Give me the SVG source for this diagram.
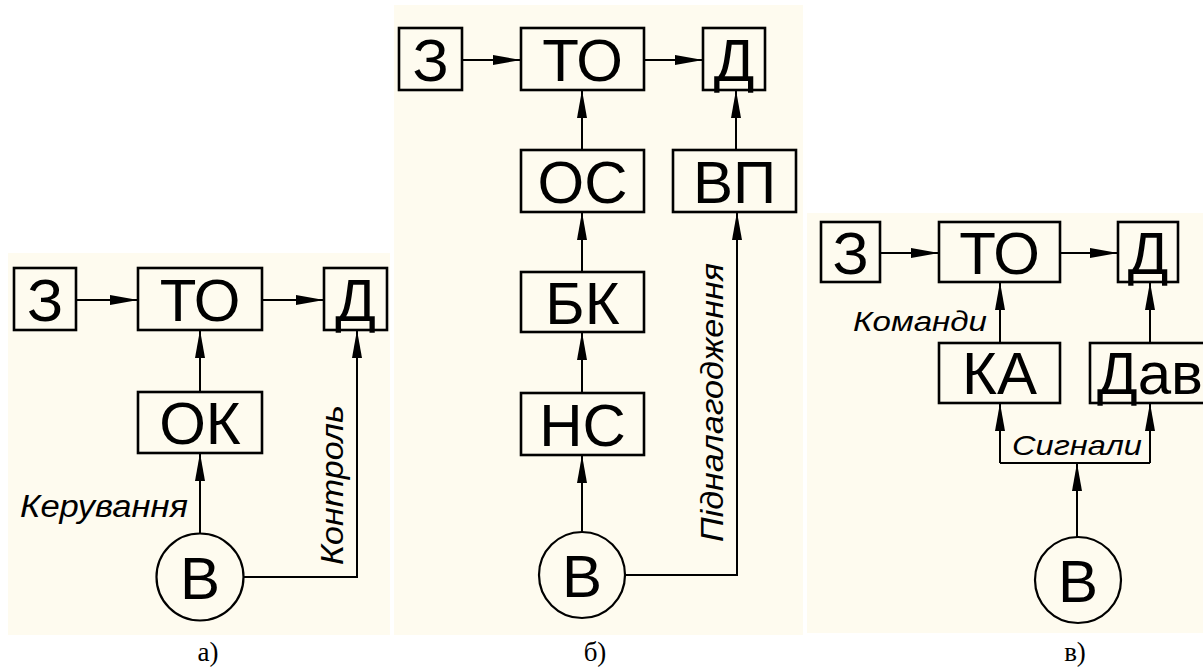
<svg xmlns="http://www.w3.org/2000/svg" width="1203" height="667" viewBox="0 0 1203 667">
<style>
.bg{fill:#FEFBEF;stroke:none}
.box{fill:none;stroke:#000;stroke-width:2.6}
.circ{fill:none;stroke:#000;stroke-width:2.2}
.big{font-family:"Liberation Sans",Arial,sans-serif;font-size:60px;fill:#000;text-anchor:middle}
.lbl{font-family:"Liberation Sans",Arial,sans-serif;font-style:italic;fill:#000}
.cap{font-family:"Liberation Serif","Times New Roman",serif;font-size:27px;fill:#000;text-anchor:middle}
.ln{fill:none;stroke:#000;stroke-width:2}
.arr{marker-end:url(#ah)}
</style>
<defs>
<marker id="ah" markerUnits="userSpaceOnUse" markerWidth="30" markerHeight="12" refX="28" refY="5" orient="auto" overflow="visible">
<path d="M0,0 L28,5 L0,10 z" fill="#000"/>
</marker>
</defs>
<rect width="1203" height="667" fill="#fff"/>
<rect class="bg" x="8" y="253" width="382" height="382"/>
<rect class="bg" x="394" y="5" width="409" height="630"/>
<rect class="bg" x="807" y="213" width="396" height="420"/>

<!-- Panel a -->
<g id="a-Z"><rect class="box" x="14" y="268" width="62" height="62"/><text class="big" x="45" y="321">З</text></g>
<g id="a-TO"><rect class="box" x="138" y="268" width="124" height="62"/><text class="big" x="200" y="321">ТО</text></g>
<g id="a-D"><rect class="box" x="324" y="268" width="63" height="62"/><text class="big" x="355.5" y="321">Д</text></g>
<g id="a-OK"><rect class="box" x="138" y="392" width="124" height="61"/><text class="big" x="200" y="444">ОК</text></g>
<g id="a-V"><circle class="circ" cx="200" cy="577" r="43.5"/><text class="big" x="200" y="599">В</text></g>

<!-- Panel b -->
<g id="b-Z"><rect class="box" x="399" y="28" width="63" height="62"/><text class="big" x="430.5" y="81">З</text></g>
<g id="b-TO"><rect class="box" x="521" y="28" width="123" height="62"/><text class="big" x="582.5" y="81">ТО</text></g>
<g id="b-D"><rect class="box" x="703" y="28" width="62" height="62"/><text class="big" x="734" y="81">Д</text></g>
<g id="b-OS"><rect class="box" x="521" y="150" width="123" height="62"/><text class="big" x="582.5" y="203">ОС</text></g>
<g id="b-VP"><rect class="box" x="673" y="150" width="123" height="62"/><text class="big" x="734.5" y="203">ВП</text></g>
<g id="b-BK"><rect class="box" x="521" y="272" width="123" height="60"/><text class="big" x="582.5" y="324">БК</text></g>
<g id="b-NS"><rect class="box" x="521" y="393" width="123" height="62"/><text class="big" x="582.5" y="446">НС</text></g>
<g id="b-V"><circle class="circ" cx="582" cy="575" r="43"/><text class="big" x="582" y="597">В</text></g>

<!-- Panel c -->
<g id="c-Z"><rect class="box" x="821" y="222" width="59" height="60"/><text class="big" x="850.5" y="274">З</text></g>
<g id="c-TO"><rect class="box" x="939" y="222" width="121" height="60"/><text class="big" x="999.5" y="274">ТО</text></g>
<g id="c-D"><rect class="box" x="1118" y="222" width="60" height="60"/><text class="big" x="1148" y="274">Д</text></g>
<g id="c-KA"><rect class="box" x="939" y="343" width="121" height="60"/><text class="big" x="999.5" y="394">КА</text></g>
<g id="c-Dav"><rect class="box" x="1090" y="343" width="120" height="60"/><text class="big" x="1097" y="394" style="text-anchor:start">Дав</text></g>
<g id="c-V"><circle class="circ" cx="1078" cy="580" r="43"/><text class="big" x="1078" y="602">В</text></g>

<!-- Connectors -->
<g id="connectors">
<line class="ln arr" x1="76" y1="300" x2="138" y2="300"/>
<line class="ln arr" x1="262" y1="300" x2="324" y2="300"/>
<line class="ln arr" x1="200" y1="392" x2="200" y2="330"/>
<line class="ln arr" x1="200" y1="533.5" x2="200" y2="453"/>
<polyline class="ln arr" points="243.5,577 357,577 357,330"/>

<line class="ln arr" x1="462" y1="60" x2="521" y2="60"/>
<line class="ln arr" x1="644" y1="60" x2="703" y2="60"/>
<line class="ln arr" x1="582" y1="150" x2="582" y2="90"/>
<line class="ln arr" x1="736" y1="150" x2="736" y2="90"/>
<line class="ln arr" x1="582" y1="272" x2="582" y2="212"/>
<line class="ln arr" x1="582" y1="393" x2="582" y2="332"/>
<line class="ln arr" x1="582" y1="532" x2="582" y2="455"/>
<polyline class="ln arr" points="625,575 737,575 737,212"/>

<line class="ln arr" x1="880" y1="253" x2="939" y2="253"/>
<line class="ln arr" x1="1060" y1="253" x2="1118" y2="253"/>
<line class="ln arr" x1="1000" y1="343" x2="1000" y2="282"/>
<line class="ln arr" x1="1150" y1="343" x2="1150" y2="282"/>
<line class="ln arr" x1="1077" y1="537" x2="1077" y2="463"/>
<line class="ln" x1="1000" y1="463" x2="1150" y2="463"/>
<line class="ln arr" x1="1000" y1="463" x2="1000" y2="403"/>
<line class="ln arr" x1="1150" y1="463" x2="1150" y2="403"/>
</g>

<!-- Labels -->
<text class="lbl" x="20" y="517" font-size="31" textLength="168" lengthAdjust="spacingAndGlyphs">Керування</text>
<text class="lbl" transform="translate(343,565) rotate(-90)" font-size="31" textLength="160" lengthAdjust="spacingAndGlyphs">Контроль</text>
<text class="lbl" transform="translate(723,542) rotate(-90)" font-size="32" textLength="279" lengthAdjust="spacingAndGlyphs">Підналагодження</text>
<text class="lbl" x="853" y="331" font-size="27" textLength="134" lengthAdjust="spacingAndGlyphs">Команди</text>
<text class="lbl" x="1012" y="455" font-size="28" textLength="130" lengthAdjust="spacingAndGlyphs">Сигнали</text>

<text class="cap" x="208" y="661">а)</text>
<text class="cap" x="595" y="661">б)</text>
<text class="cap" x="1075" y="661">в)</text>
</svg>
